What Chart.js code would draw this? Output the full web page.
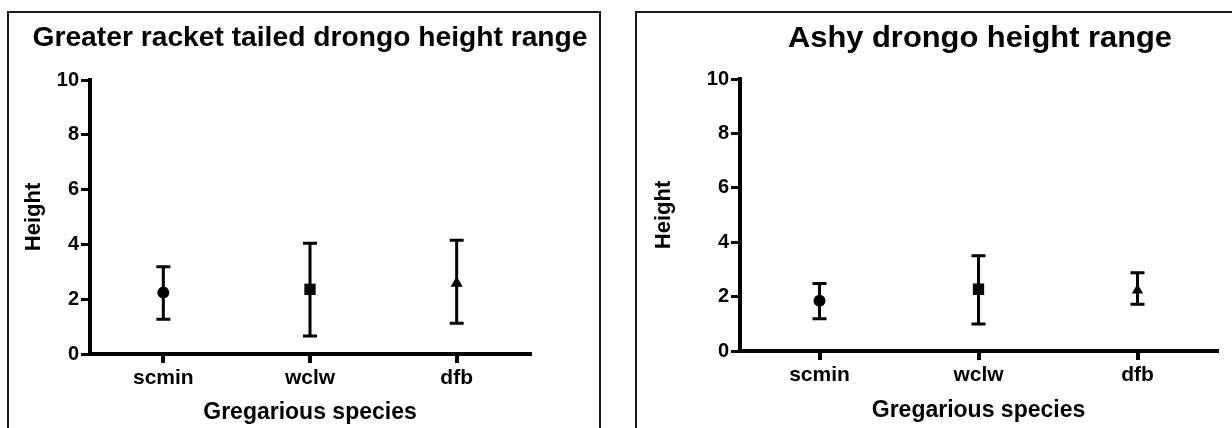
<!DOCTYPE html>
<html>
<head>
<meta charset="utf-8">
<script src="https://cdn.jsdelivr.net/npm/chart.js@4/dist/chart.umd.min.js"></script>
<style>
  html, body { margin: 0; padding: 0; background: #fff; }
  body { width: 1232px; height: 428px; position: relative; overflow: hidden; }
  .box { position: absolute; border: 2px solid #1a1a1a; background: transparent; }
  #box1 { left: 7px; top: 11px; width: 590px; height: 440px; }
  #box2 { left: 635px; top: 11px; width: 640px; height: 440px; }
  .wrap { position: absolute; top: 0; height: 428px; }
  #w1 { left: 0; width: 620px; }
  #w2 { left: 640px; width: 592px; }
</style>
</head>
<body>
<div class="box" id="box1"></div>
<div class="box" id="box2"></div>
<div class="wrap" id="w1"><canvas id="c1" width="620" height="428"></canvas></div>
<div class="wrap" id="w2"><canvas id="c2" width="592" height="428"></canvas></div>
<script>
// ---- data ----
const categories = ['scmin', 'wclw', 'dfb'];
const pointStyles = ['circle', 'rect', 'triangle'];
const yTicks = [0, 2, 4, 6, 8, 10];

const title1 = 'Greater racket tailed drongo height range';
const mean1  = [2.24, 2.36, 2.58];
const upper1 = [3.18, 4.04, 4.15];
const lower1 = [1.27, 0.66, 1.12];

const title2 = 'Ashy drongo height range';
const mean2  = [1.85, 2.27, 2.23];
const upper2 = [2.48, 3.50, 2.88];
const lower2 = [1.19, 0.99, 1.72];

const xTitle = 'Gregarious species';
const yTitle = 'Height';

const FONT = "'Liberation Sans', Arial, sans-serif";

const errorBarPlugin = {
  id: 'errorBars',
  beforeDatasetsDraw(chart, args, opts) {
    const {ctx, scales: {x, y}} = chart;
    const lo = opts.lower, hi = opts.upper;
    ctx.save();
    ctx.strokeStyle = '#000';
    ctx.lineWidth = 3;
    ctx.lineCap = 'butt';
    for (let i = 0; i < lo.length; i++) {
      const px = x.getPixelForValue(i);
      const yl = y.getPixelForValue(lo[i]);
      const yh = y.getPixelForValue(hi[i]);
      ctx.beginPath();
      ctx.moveTo(px, yl); ctx.lineTo(px, yh);
      ctx.moveTo(px - 7, yl); ctx.lineTo(px + 7, yl);
      ctx.moveTo(px - 7, yh); ctx.lineTo(px + 7, yh);
      ctx.stroke();
    }
    ctx.restore();
  }
};

// Title centred over the plot area (text may be wider than the plot area)
const centredTitlePlugin = {
  id: 'centredTitle',
  afterDraw(chart, args, opts) {
    const {ctx, chartArea} = chart;
    ctx.save();
    ctx.font = `bold ${opts.size}px ${FONT}`;
    ctx.fillStyle = '#000';
    ctx.textAlign = 'center';
    ctx.textBaseline = 'middle';
    const w = ctx.measureText(opts.text).width;
    const sx = opts.width / w;
    const cx = (chartArea.left + chartArea.right) / 2 + (opts.dx || 0);
    ctx.translate(cx, opts.y);
    ctx.scale(sx, 1);
    ctx.fillText(opts.text, 0, 0);
    ctx.restore();
  }
};

function makeChart(id, titleText, means, lo, hi, cfg) {
  return new Chart(document.getElementById(id), {
    type: 'line',
    data: {
      labels: categories,
      datasets: [{
        data: means,
        showLine: false,
        pointStyle: pointStyles,
        pointRadius: cfg.radii,
        pointHoverRadius: cfg.radii,
        backgroundColor: '#000',
        borderColor: '#000',
        pointBorderWidth: 0
      }]
    },
    options: {
      responsive: false,
      animation: false,
      events: [],
      layout: { padding: { left: 0, right: cfg.padRight, top: cfg.padTop, bottom: 0 } },
      plugins: {
        legend: { display: false },
        tooltip: { enabled: false },
        title: { display: false },
        centredTitle: { text: titleText, size: cfg.titleSize, width: cfg.titleWidth, y: 39, dx: cfg.titleDx },
        errorBars: { lower: lo, upper: hi }
      },
      scales: {
        x: {
          type: 'category',
          offset: true,
          grid: { display: true, drawOnChartArea: false, offset: false, tickLength: 9, lineWidth: 4, color: '#000' },
          border: { display: true, width: 4, color: '#000' },
          ticks: { color: '#000', padding: 3, font: { family: FONT, size: 21, weight: 'bold' }, maxRotation: 0 },
          title: { display: true, text: xTitle, color: '#000', padding: { top: 0, bottom: cfg.xTitlePad },
                   font: { family: FONT, size: 23, weight: 'bold', lineHeight: 1.2 } },
          afterFit(s) { s.height = cfg.xHeight; }
        },
        y: {
          min: 0, max: 10,
          afterBuildTicks(s) { s.ticks = yTicks.map(v => ({ value: v })); },
          grid: { display: true, drawOnChartArea: false, tickLength: 9, lineWidth: 3, color: '#000' },
          border: { display: true, width: 4, color: '#000' },
          ticks: { color: '#000', padding: 2, font: { family: FONT, size: 20, weight: 'bold' } },
          title: { display: true, text: yTitle, color: '#000', padding: { top: cfg.yTitlePad, bottom: 0 },
                   font: { family: FONT, size: 22, weight: 'bold', lineHeight: 1.2 } },
          afterFit(s) { s.width = cfg.yWidth; }
        }
      }
    },
    plugins: [errorBarPlugin, centredTitlePlugin]
  });
}

makeChart('c1', title1, mean1, lower1, upper1, {
  radii: [6, 8, 7], padRight: 90, padTop: 80, titleSize: 27, titleWidth: 555, titleDx: 0,
  xHeight: 74, xTitlePad: 2, yWidth: 90, yTitlePad: 21
});
makeChart('c2', title2, mean2, lower2, upper2, {
  radii: [6, 8, 6.5], padRight: 15, padTop: 79, titleSize: 29, titleWidth: 384, titleDx: 1.5,
  xHeight: 77, xTitlePad: 4, yWidth: 100, yTitlePad: 11
});
</script>
</body>
</html>
